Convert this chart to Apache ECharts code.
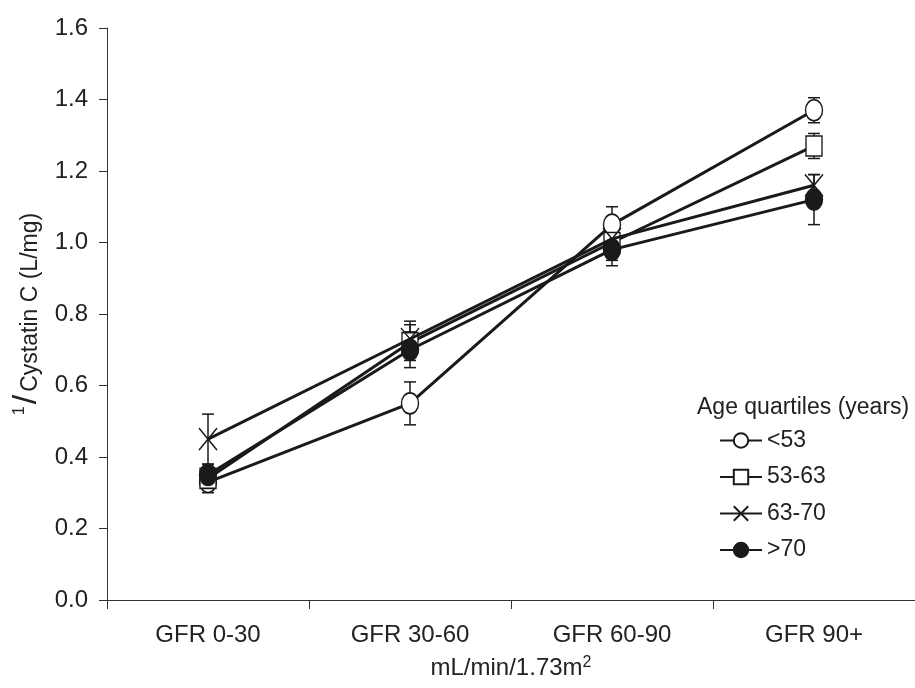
<!DOCTYPE html>
<html>
<head>
<meta charset="utf-8">
<script src="https://cdn.jsdelivr.net/npm/echarts@6/dist/echarts.min.js"></script>
<style>
html,body{margin:0;padding:0;background:#fff;}
#main{width:915px;height:688px;}
</style>
</head>
<body>
<div id="main"></div>
<script>
var categories = ['GFR 0-30', 'GFR 30-60', 'GFR 60-90', 'GFR 90+'];
var seriesNames = ['<53', '53-63', '63-70', '>70'];
var valsLt53 = [0.33, 0.55, 1.05, 1.37];
var errLt53 = [0.03, 0.06, 0.05, 0.035];
var vals53to63 = [0.34, 0.72, 1.00, 1.27];
var err53to63 = [0.03, 0.05, 0.05, 0.035];
var vals63to70 = [0.45, 0.73, 1.01, 1.16];
var err63to70 = [0.07, 0.05, 0.05, 0.03];
var valsGt70 = [0.35, 0.70, 0.98, 1.12];
var errGt70 = [0.03, 0.05, 0.045, 0.07];
var yTicks = ['0.0', '0.2', '0.4', '0.6', '0.8', '1.0', '1.2', '1.4', '1.6'];

var allVals = [valsLt53, vals53to63, vals63to70, valsGt70];
var allErr = [errLt53, err53to63, err63to70, errGt70];

var FONT = '"Liberation Sans", Arial, sans-serif';
var INK = '#1a1a1a';
var TXT = '#222';

var crossPath = 'path://M0,0L10,12M10,0L0,12';
var symbols = ['circle', 'rect', crossPath, 'circle'];
var fills = ['#ffffff', '#ffffff', 'none', INK];
var sizes = [[17, 21], [16, 20], [18, 22], [17, 21]];

function errData(k) {
  return allVals[k].map(function (v, i) { return [i, v, allErr[k][i]]; });
}

function renderErr(params, api) {
  var i = api.value(0), v = api.value(1), e = api.value(2);
  var top = api.coord([i, v + e]);
  var bot = api.coord([i, v - e]);
  var hw = 6;
  var st = { stroke: INK, lineWidth: 1.5 };
  return {
    type: 'group',
    children: [
      { type: 'line', shape: { x1: top[0], y1: top[1], x2: bot[0], y2: bot[1] }, style: st },
      { type: 'line', shape: { x1: top[0] - hw, y1: top[1], x2: top[0] + hw, y2: top[1] }, style: st },
      { type: 'line', shape: { x1: bot[0] - hw, y1: bot[1], x2: bot[0] + hw, y2: bot[1] }, style: st }
    ]
  };
}

var series = [];
for (var k = 0; k < 4; k++) {
  series.push({
    type: 'custom',
    name: seriesNames[k] + '_err',
    renderItem: renderErr,
    data: errData(k),
    z: 1,
    silent: true,
    encode: { x: 0, y: 1 }
  });
}
for (var k2 = 0; k2 < 4; k2++) {
  series.push({
    type: 'line',
    name: seriesNames[k2],
    data: allVals[k2],
    z: 2 + k2,
    symbol: symbols[k2],
    symbolSize: sizes[k2],
    showAllSymbol: true,
    lineStyle: { color: INK, width: 3 },
    itemStyle: { color: fills[k2], borderColor: INK, borderWidth: 1.5, opacity: 1 },
    emphasis: { disabled: true }
  });
}

var chart = echarts.init(document.getElementById('main'), null, { renderer: 'canvas' });
chart.setOption({
  animation: false,
  backgroundColor: '#ffffff',
  textStyle: { fontFamily: FONT, color: TXT },
  grid: { left: 107, right: 0, top: 28, bottom: 88, containLabel: false },
  title: {
    text: 'Age quartiles (years)',
    left: 692,
    top: 391,
    textStyle: { fontFamily: FONT, fontSize: 23, fontWeight: 'normal', color: TXT }
  },
  legend: {
    data: seriesNames,
    orient: 'vertical',
    left: 714,
    top: 424,
    itemWidth: 42,
    itemHeight: 18,
    itemGap: 13.5,
    textStyle: { fontFamily: FONT, fontSize: 23, color: TXT },
    selectedMode: false
  },
  xAxis: {
    type: 'category',
    data: categories,
    boundaryGap: true,
    axisLine: { lineStyle: { color: '#333', width: 1 } },
    axisTick: { show: true, length: 9, inside: false, alignWithLabel: false, lineStyle: { color: '#333' } },
    axisLabel: { fontFamily: FONT, fontSize: 24, color: TXT, margin: 23 },
    splitLine: { show: false },
    name: 'mL/min/1.73m{s|2}',
    nameLocation: 'middle',
    nameGap: 55,
    nameTextStyle: {
      fontFamily: FONT, fontSize: 24, color: TXT,
      rich: { s: { fontFamily: FONT, fontSize: 16, color: TXT, padding: [0, 0, 10, 0] } }
    }
  },
  yAxis: {
    type: 'value',
    min: 0,
    max: 1.6,
    interval: 0.2,
    axisLine: { show: true, lineStyle: { color: '#333', width: 1 } },
    axisTick: { show: true, length: 8, inside: false, lineStyle: { color: '#333' } },
    splitLine: { show: false },
    axisLabel: {
      fontFamily: FONT, fontSize: 24, color: TXT, margin: 19,
      formatter: function (v) { return yTicks[Math.round(v / 0.2)]; }
    },
    name: '{a|1}{b|/}{c|Cystatin C (L/mg)}',
    nameLocation: 'middle',
    nameGap: 60,
    nameTextStyle: {
      fontFamily: FONT, fontSize: 23, color: TXT,
      rich: {
        a: { fontFamily: FONT, fontSize: 16, color: TXT, padding: [0, 0, 14, 0] },
        b: { fontFamily: FONT, fontSize: 34, color: TXT, padding: [0, 3, 0, 2] },
        c: { fontFamily: FONT, fontSize: 23, color: TXT, padding: [8, 0, 0, 0] }
      }
    }
  },
  series: series
});
</script>
</body>
</html>
